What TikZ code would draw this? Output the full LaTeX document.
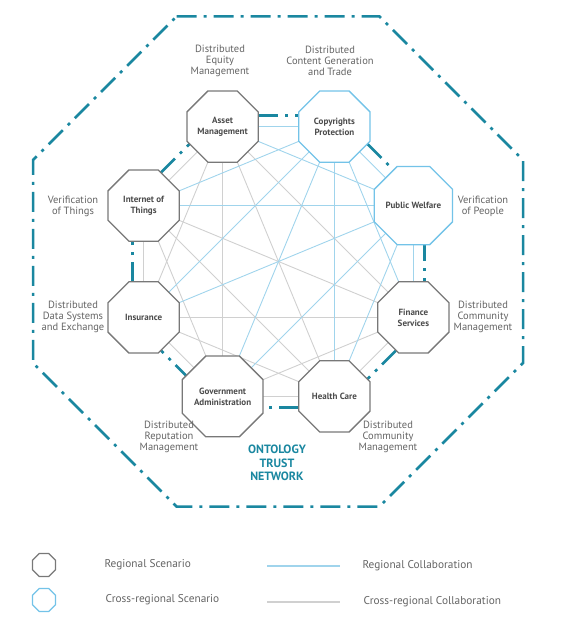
\documentclass[tikz,border=0pt]{standalone}
\usepackage{fontspec}
\setmainfont{PT Sans}
\usetikzlibrary{shapes.geometric}
\definecolor{teal1}{RGB}{26,135,160}
\definecolor{edgeblue}{RGB}{160,212,236}
\definecolor{edgegray}{RGB}{208,208,208}
\definecolor{nodegray}{RGB}{120,120,120}
\definecolor{nodeblue}{RGB}{115,195,232}
\definecolor{txtgray}{RGB}{100,100,100}
\definecolor{txtdark}{RGB}{75,75,75}
\begin{document}
\begin{tikzpicture}[x=1pt,y=-1pt,
  oct/.style={regular polygon, regular polygon sides=8, minimum size=77pt, inner sep=0pt, fill=white, line width=1.3pt, align=center, font=\fontsize{9}{11}\selectfont\bfseries, text=txtdark},
  graynode/.style={oct, draw=nodegray},
  bluenode/.style={oct, draw=nodeblue},
  minioct/.style={regular polygon, regular polygon sides=8, minimum size=25pt, inner sep=0pt, line width=1.2pt},
  dashdot/.style={draw=teal1, line width=2.5pt, dash pattern=on 20pt off 7pt on 3pt off 7pt},
  bluelink/.style={draw=edgeblue, line width=0.9pt},
  graylink/.style={draw=edgegray, line width=0.9pt},
  lbl/.style={align=center, font=\fontsize{10.5}{11}\selectfont, text=txtgray},
  legtxt/.style={anchor=west, font=\fontsize{11.3}{12}\selectfont, text=txtgray},
  title/.style={align=center, font=\fontsize{12}{13.5}\selectfont\bfseries, text=teal1}
]
\useasboundingbox (0,0) rectangle (576,639);

% outer dash-dot frame
\coordinate (o1) at (176.5,16.5);
\coordinate (o2) at (379.5,16.5);
\coordinate (o3) at (523,160);
\coordinate (o4) at (523,363);
\coordinate (o5) at (379.5,506.5);
\coordinate (o6) at (176.5,506.5);
\coordinate (o7) at (33,363);
\coordinate (o8) at (33,160);
\draw[dashdot] (o1) -- (o2) -- (o3) -- (o4) -- (o5) -- (o6) -- (o7) -- (o8) -- cycle;

% inner dash-dot ring (hidden under nodes)
\coordinate (i1) at (218,115.5);
\coordinate (i2) at (339,115.5);
\coordinate (i3) at (424.5,201);
\coordinate (i4) at (424.5,322);
\coordinate (i5) at (339,407.5);
\coordinate (i6) at (218,407.5);
\coordinate (i7) at (132.5,322);
\coordinate (i8) at (132.5,201);
\foreach \a/\b in {i1/i2,i2/i3,i3/i4,i4/i5,i5/i6,i6/i7,i7/i8,i8/i1}
  \draw[dashdot, dash phase=34pt] (\a) -- (\b);

% node positions
\coordinate (pam) at (222.6,126.6);
\coordinate (pcp) at (334.4,126.6);
\coordinate (ppw) at (413.4,205.6);
\coordinate (pfs) at (413.4,317.4);
\coordinate (phc) at (334.4,396.4);
\coordinate (pga) at (222.6,396.4);
\coordinate (pin) at (143.6,317.4);
\coordinate (pio) at (143.6,205.6);

% collaboration links
\foreach \a/\b in {pam/pfs,pam/phc,pam/pga,pam/pin,pam/pio,pfs/phc,pfs/pga,pfs/pin,pfs/pio,phc/pga,phc/pin,phc/pio,pga/pin,pga/pio,pin/pio}
  \draw[graylink] (\a) -- (\b);
\foreach \a/\b in {pcp/pam,pcp/ppw,pcp/pfs,pcp/phc,pcp/pga,pcp/pin,pcp/pio,ppw/pam,ppw/pfs,ppw/phc,ppw/pga,ppw/pin,ppw/pio}
  \draw[bluelink] (\a) -- (\b);

% scenario nodes
\node[graynode] (am) at (pam) {Asset\\Management};
\node[bluenode] (cp) at (pcp) {Copyrights\\Protection};
\node[bluenode] (pw) at (ppw) {Public Welfare};
\node[graynode] (fs) at (pfs) {Finance\\Services};
\node[graynode] (hc) at (phc) {Health Care};
\node[graynode] (ga) at (pga) {Government\\Administration};
\node[graynode] (ins) at (pin) {Insurance};
\node[graynode] (iot) at (pio) {Internet of\\Things};

% outer labels
\node[lbl] (l1) at (220,61) {Distributed\\Equity\\Management};
\node[lbl] (l2) at (330,61) {Distributed\\Content Generation\\and Trade};
\node[lbl] (l3) at (73,206) {Verification\\of Things};
\node[lbl] (l4) at (73,317) {Distributed\\Data Systems\\and Exchange};
\node[lbl] (l5) at (483,206) {Verification\\of People};
\node[lbl] (l6) at (483,317) {Distributed\\Community\\Management};
\node[lbl] (l7) at (169,437) {Distributed\\Reputation\\Management};
\node[lbl] (l8) at (388,437) {Distributed\\Community\\Management};
\node[title] (tt) at (277,463) {ONTOLOGY\\TRUST\\NETWORK};

% legend
\node[minioct, draw=nodegray] (lg1) at (44,565) {};
\node[minioct, draw=nodeblue] (lg2) at (44,600) {};
\node[legtxt] (lt1) at (101,565) {Regional Scenario};
\node[legtxt] (lt2) at (102,600) {Cross-regional Scenario};
\coordinate (la1) at (267,566);
\coordinate (lb1) at (340,566);
\coordinate (la2) at (267,602);
\coordinate (lb2) at (340,602);
\draw[draw=edgeblue, line width=1.2pt] (la1) -- (lb1);
\draw[draw=edgegray, line width=1.2pt] (la2) -- (lb2);
\node[legtxt] (lt3) at (359,566) {Regional Collaboration};
\node[legtxt] (lt4) at (360,602) {Cross-regional Collaboration};
\end{tikzpicture}
\end{document}
